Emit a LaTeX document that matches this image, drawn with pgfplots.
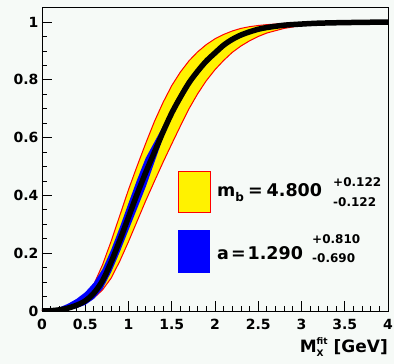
\documentclass[border=0pt]{standalone}
\usepackage{fontspec}
\setmainfont{DejaVu Sans}
\usepackage{pgfplots}
\usepackage{pgfplotstable}
\pgfplotsset{compat=1.18}
\definecolor{bgc}{RGB}{246,250,247}

% central curve
\pgfplotstableread{
x y
0 0
0.1 0.001
0.2 0.004
0.3 0.010
0.4 0.020
0.5 0.035
0.6 0.062
0.7 0.105
0.8 0.170
0.9 0.245
1.0 0.325
1.1 0.405
1.2 0.480
1.3 0.550
1.4 0.620
1.5 0.685
1.6 0.740
1.7 0.790
1.8 0.830
1.9 0.865
2.0 0.893
2.1 0.920
2.2 0.940
2.3 0.955
2.4 0.966
2.5 0.975
2.6 0.981
2.8 0.989
3.0 0.993
3.2 0.996
3.5 0.998
4.0 1.000
}\tabF

% m_b band, upper (left) edge
\pgfplotstableread{
x y
0 0
0.1 0.0013
0.2 0.0054
0.3 0.0136
0.4 0.027
0.5 0.051
0.6 0.093
0.7 0.160
0.8 0.242
0.9 0.331
1.0 0.420
1.1 0.502
1.2 0.581
1.3 0.656
1.4 0.722
1.5 0.780
1.6 0.827
1.7 0.866
1.8 0.897
1.9 0.922
2.0 0.942
2.1 0.957
2.2 0.969
2.3 0.978
2.4 0.984
2.5 0.988
2.6 0.991
2.8 0.995
3.0 0.9975
3.5 0.9995
4.0 1.0
}\tabU

% m_b band, lower (right) edge
\pgfplotstableread{
x y
0 0
0.1 0.0009
0.2 0.0034
0.3 0.008
0.4 0.0157
0.5 0.027
0.6 0.045
0.7 0.073
0.8 0.114
0.9 0.173
1.0 0.240
1.1 0.311
1.2 0.382
1.3 0.449
1.4 0.515
1.5 0.578
1.6 0.640
1.7 0.700
1.8 0.752
1.9 0.797
2.0 0.835
2.1 0.867
2.2 0.895
2.3 0.917
2.4 0.935
2.5 0.950
2.6 0.962
2.8 0.978
3.0 0.988
3.2 0.993
3.4 0.996
3.6 0.998
4.0 0.999
}\tabL

\begin{document}
\begin{tikzpicture}
\fill[bgc] (-42pt,-53pt) rectangle (352pt,311pt);
\useasboundingbox (-42pt,-53pt) rectangle (352pt,311pt);
\begin{axis}[
  at={(0pt,0pt)}, anchor=south west,
  scale only axis, width=346pt, height=304pt,
  xmin=0, xmax=4, ymin=0, ymax=1.052,
  tick pos=left, tick align=inside,
  xtick={0,0.5,1,1.5,2,2.5,3,3.5,4},
  xticklabels={0,0.5,1,1.5,2,2.5,3,3.5,4},
  ytick={0,0.2,0.4,0.6,0.8,1},
  yticklabels={0,0.2,0.4,0.6,0.8,1},
  minor x tick num=4, minor y tick num=3,
  major tick length=10pt, minor tick length=5pt,
  tick style={black, line width=0.8pt},
  axis line style={black, line width=0.8pt},
  ticklabel style={font=\fontsize{14}{14}\selectfont\bfseries},
  xticklabel style={yshift=-5pt},
  clip=true,
]
% m_b band (upper edge forward, lower edge backward)
\addplot[fill=yellow, draw=none] coordinates {
(0,0)(0.1,0.0013)(0.2,0.0054)(0.3,0.0136)(0.4,0.027)(0.5,0.051)(0.6,0.093)(0.7,0.160)
(0.8,0.242)(0.9,0.331)(1.0,0.420)(1.1,0.502)(1.2,0.581)(1.3,0.656)(1.4,0.722)(1.5,0.780)
(1.6,0.827)(1.7,0.866)(1.8,0.897)(1.9,0.922)(2.0,0.942)(2.1,0.957)(2.2,0.969)(2.3,0.978)
(2.4,0.984)(2.5,0.988)(2.6,0.991)(2.8,0.995)(3.0,0.9975)(3.5,0.9995)(4.0,1.0)
(4.0,0.999)(3.6,0.998)(3.4,0.996)(3.2,0.993)(3.0,0.988)(2.8,0.978)(2.6,0.962)(2.5,0.950)
(2.4,0.935)(2.3,0.917)(2.2,0.895)(2.1,0.867)(2.0,0.835)(1.9,0.797)(1.8,0.752)(1.7,0.700)
(1.6,0.640)(1.5,0.578)(1.4,0.515)(1.3,0.449)(1.2,0.382)(1.1,0.311)(1.0,0.240)(0.9,0.173)
(0.8,0.114)(0.7,0.073)(0.6,0.045)(0.5,0.027)(0.4,0.0157)(0.3,0.008)(0.2,0.0034)(0.1,0.0009)
};
\addplot[red, line width=1pt] table {\tabU};
\addplot[red, line width=1pt] table {\tabL};
% a band
\addplot[fill=blue, draw=none] coordinates {
(0,0)(0.1,0.004)(0.2,0.012)(0.3,0.025)(0.4,0.042)(0.5,0.065)(0.6,0.098)(0.7,0.145)
(0.8,0.212)(0.9,0.290)(1.0,0.373)(1.1,0.455)(1.2,0.530)(1.3,0.585)(1.4,0.640)(1.5,0.695)
(1.6,0.745)(1.7,0.790)
(1.6,0.735)(1.5,0.675)(1.4,0.600)(1.3,0.515)(1.2,0.430)(1.1,0.355)(1.0,0.280)(0.9,0.205)
(0.8,0.135)(0.7,0.077)(0.6,0.042)(0.5,0.021)(0.4,0.010)(0.3,0.004)(0.2,0.001)(0.1,0.0005)
};
\addplot[black, line width=5.5pt, smooth] table {\tabF};
\end{axis}
% legend
\fill[yellow, draw=red, line width=1pt] (136pt,98pt) rectangle (168pt,139pt);
\fill[blue] (136pt,38pt) rectangle (168pt,81pt);
\node[anchor=base west, inner sep=0pt, font=\fontsize{17.5}{17.5}\selectfont\bfseries] at (175pt,114pt)
  {m\raisebox{-5pt}{\fontsize{12}{12}\selectfont b}\hspace{4pt}=\hspace{4pt}4.800};
\node[anchor=base west, inner sep=0pt, font=\fontsize{12}{12}\selectfont\bfseries] at (291pt,124pt) {+0.122};
\node[anchor=base west, inner sep=0pt, font=\fontsize{12}{12}\selectfont\bfseries] at (291pt,104pt) {-0.122};
\node[anchor=base west, inner sep=0pt, font=\fontsize{17.5}{17.5}\selectfont\bfseries] at (175pt,51pt)
  {a\hspace{2pt}=\hspace{2pt}1.290};
\node[anchor=base west, inner sep=0pt, font=\fontsize{12}{12}\selectfont\bfseries] at (270pt,67pt) {+0.810};
\node[anchor=base west, inner sep=0pt, font=\fontsize{12}{12}\selectfont\bfseries] at (270pt,48pt) {-0.690};
% x label
\node[anchor=base east, inner sep=0pt, font=\fontsize{17}{17}\selectfont\bfseries] at (346pt,-42pt)
  {M\rlap{\raisebox{8.5pt}{\fontsize{9}{9}\selectfont fit}}\raisebox{-3.5pt}{\fontsize{9}{9}\selectfont X}\hspace{10pt}[GeV]};
\end{tikzpicture}
\end{document}
